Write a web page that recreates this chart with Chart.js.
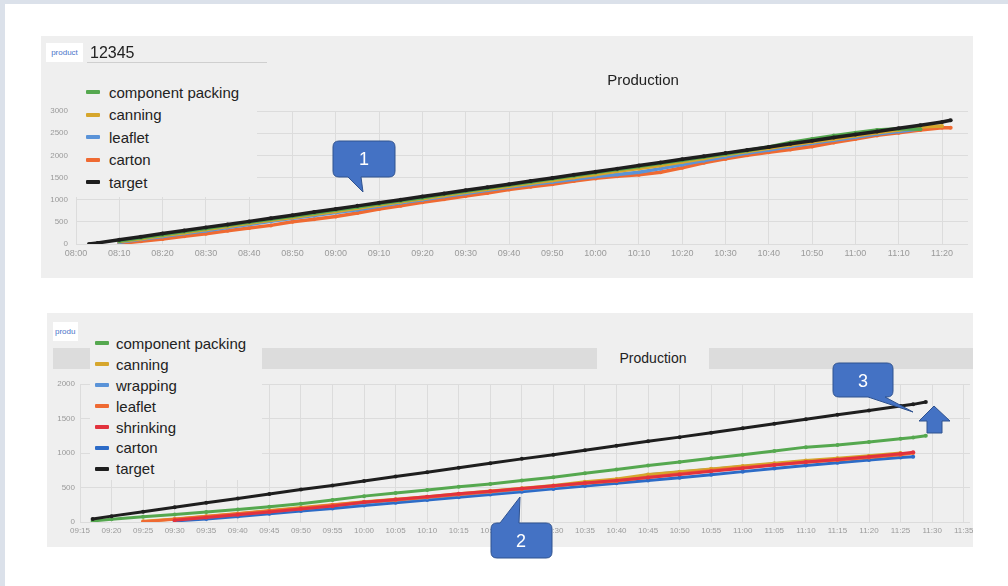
<!DOCTYPE html>
<html>
<head>
<meta charset="utf-8">
<script src="https://cdn.jsdelivr.net/npm/chart.js@4.4.1/dist/chart.umd.min.js"></script>
<style>
  html, body { margin: 0; padding: 0; }
  body {
    width: 1008px; height: 586px; overflow: hidden; position: relative;
    background: #dbe1ea; font-family: 'Liberation Sans', Arial, sans-serif;
  }
  .sheet { position: absolute; left: 5px; top: 4px; width: 1003px; height: 582px; background: #fff; }
  .panel { position: absolute; background: #efefef; overflow: hidden; }
  .panel canvas { position: absolute; left: 0; top: 0; }
  .tag {
    position: absolute; background: #fff; color: #4a74c9; font-size: 8px;
    line-height: 19px; height: 19px; overflow: hidden; white-space: nowrap;
  }
  .legend { position: absolute; background: #efefef; color: #222; font-size: 15px; }
  .legend .item { display: flex; align-items: center; white-space: nowrap; }
  .legend .swatch { width: 14px; height: 4px; border-radius: 1px; }
  svg { position: absolute; left: 0; top: 0; }
</style>
</head>
<body>
<div class="sheet"></div>

<div class="panel" style="left:41px; top:36px; width:932px; height:242px;">
  <canvas id="top-chart" width="932" height="242"></canvas>
  <div class="tag" style="left:5px; top:7px; width:37px; text-align:center;">product</div>
  <div style="position:absolute; left:46px; top:6px; width:180px; height:21px; border-bottom:1px solid #cfcfcf; font-size:16px; line-height:21px; color:#222; padding-left:3px; box-sizing:border-box;">12345</div>
  <div style="position:absolute; left:540px; top:35px; width:124px; text-align:center; font-size:15px; line-height:18px; color:#222;">Production</div>
  <div class="legend" id="top-legend" style="left:35px; top:45px; width:181px; height:116px; padding-left:10px; box-sizing:border-box;"></div>
</div>

<div class="panel" style="left:47px; top:313px; width:926px; height:234px;">
  <div style="position:absolute; left:6px; top:35px; width:920px; height:21px; background:#dcdcdc;"></div>
  <div style="position:absolute; left:550px; top:35px; width:112px; height:21px; background:#efefef; text-align:center; font-size:14px; line-height:21px; color:#222;">Production</div>
  <canvas id="bottom-chart" width="946" height="235"></canvas>
  <div class="tag" style="left:6px; top:9px; width:25px; padding-left:2px; box-sizing:border-box;">produ</div>
  <div class="legend" id="bottom-legend" style="left:43px; top:20px; width:172px; height:147px; padding-left:5px; box-sizing:border-box;"></div>
</div>

<svg width="1008" height="586">
  <g fill="#4472c4" stroke="#2f528f" stroke-width="1">
    <path d="M339 141 H389 Q395 141 395 147 V171 Q395 177 389 177 H361 L363 192 L348 177 H339 Q333 177 333 171 V147 Q333 141 339 141 Z"/>
    <path d="M497 523 H500 L520 497 L519 523 H546 Q552 523 552 529 V552 Q552 558 546 558 H497 Q491 558 491 552 V529 Q491 523 497 523 Z"/>
    <path d="M839 363 H887 Q893 363 893 369 V391 Q893 397 887 397 H885 L913 412 L868 397 H839 Q833 397 833 391 V369 Q833 363 839 363 Z"/>
    <path d="M934 406 L950 421 L942 421 L942 433 L927 433 L927 421 L919 421 Z"/>
  </g>
  <g fill="#fff" font-size="18" text-anchor="middle" font-family="Liberation Sans, Arial, sans-serif">
    <text x="364" y="165">1</text>
    <text x="521" y="547">2</text>
    <text x="863" y="387">3</text>
  </g>
</svg>

<script>
// top chart: 08:00 - 11:26
const topTimes = ['08:03', '08:05', '08:10', '08:15', '08:20', '08:25', '08:30', '08:35', '08:40', '08:45',
  '08:50', '08:55', '09:00', '09:05', '09:10', '09:15', '09:20', '09:25', '09:30', '09:35',
  '09:40', '09:45', '09:50', '09:55', '10:00', '10:05', '10:10', '10:15', '10:20', '10:25',
  '10:30', '10:35', '10:40', '10:45', '10:50', '10:55', '11:00', '11:05', '11:10', '11:15',
  '11:20', '11:22'];
const topTarget = [0, 25, 95, 165, 235, 305, 375, 440, 510, 580, 650, 720, 790, 860, 930, 1000, 1070, 1140, 1210, 1280,
  1350, 1420, 1490, 1560, 1630, 1700, 1770, 1840, 1910, 1980, 2050, 2120, 2190, 2260, 2330, 2400, 2470, 2540, 2610, 2680,
  2750, 2790];
const topComponentPacking = [null, null, 70, 140, 210, 280, 350, 420, 490, 560, 625, 695, 765, 835, 905, 975, 1045, 1120, 1190, 1260,
  1330, 1400, 1470, 1540, 1610, 1680, 1750, 1820, 1890, 1960, 2030, 2110, 2190, 2290, 2370, 2445, 2510, 2570, 2600, 2590,
  null, null];
const topCanning = [null, null, 55, 120, 190, 255, 325, 395, 465, 535, 600, 670, 735, 805, 880, 950, 1020, 1095, 1165, 1235,
  1305, 1370, 1430, 1500, 1570, 1640, 1700, 1770, 1850, 1930, 2010, 2085, 2160, 2230, 2300, 2370, 2440, 2510, 2570, 2640,
  2660, null];
const topLeaflet = [null, null, 40, 105, 170, 235, 300, 370, 440, 510, 580, 645, 710, 775, 850, 930, 1000, 1070, 1140, 1210,
  1280, 1340, 1400, 1460, 1520, 1570, 1620, 1700, 1790, 1880, 1970, 2050, 2120, 2200, 2270, 2340, 2410, 2480, 2540, 2600,
  null, null];
const topCarton = [null, null, 15, 60, 110, 175, 230, 300, 360, 420, 500, 560, 620, 700, 790, 860, 940, 1010, 1080, 1150,
  1230, 1290, 1350, 1420, 1480, 1530, 1560, 1620, 1720, 1830, 1920, 2000, 2070, 2130, 2200, 2290, 2370, 2450, 2510, 2570,
  2620, 2620];

// bottom chart: 09:15 - 11:36
const bottomTimes = ['09:17', '09:20', '09:25', '09:30', '09:35', '09:40', '09:45', '09:50', '09:55', '10:00',
  '10:05', '10:10', '10:15', '10:20', '10:25', '10:30', '10:35', '10:40', '10:45', '10:50',
  '10:55', '11:00', '11:05', '11:10', '11:15', '11:20', '11:25', '11:27', '11:29'];
const bottomTarget = [45, 85, 150, 215, 280, 340, 405, 470, 530, 595, 660, 720, 785, 850, 915, 975, 1040, 1105, 1170, 1230,
  1295, 1360, 1425, 1490, 1555, 1615, 1680, 1705, 1740];
const bottomComponentPacking = [15, 40, 75, 110, 145, 180, 220, 265, 320, 375, 420, 465, 510, 550, 600, 650, 705, 760, 820, 870,
  925, 975, 1030, 1085, 1115, 1160, 1205, 1225, 1250];
const bottomCanning = [null, null, 10, 45, 85, 125, 165, 210, 250, 295, 330, 365, 410, 450, 490, 530, 585, 625, 690, 730,
  770, 810, 850, 890, 925, 960, 1000, null, null];
const bottomWrapping = [null, null, null, 30, 70, 110, 150, 190, 235, 275, 315, 350, 395, 430, 470, 515, 560, 600, 685, 725,
  765, 805, 845, 880, 910, 945, 985, null, null];
const bottomLeaflet = [null, null, 5, 40, 80, 120, 160, 200, 245, 290, 320, 360, 400, 440, 480, 520, 560, 595, 650, 700,
  745, 790, 830, 865, 900, 935, 975, 1000, null];
const bottomShrinking = [null, null, null, 25, 65, 105, 145, 190, 230, 285, 325, 365, 410, 445, 485, 525, 565, 600, 645, 690,
  735, 780, 825, 870, 905, 945, 990, 1010, null];
const bottomCarton = [null, null, null, 15, 45, 80, 120, 160, 195, 240, 280, 320, 360, 400, 440, 480, 520, 560, 600, 640,
  685, 730, 775, 820, 860, 900, 935, 945, null];

const GREEN = '#55a84f';
const GOLD = '#d6a62c';
const LIGHT_BLUE = '#5a93d8';
const ORANGE = '#ef6a32';
const RED = '#e2323d';
const BLUE = '#2c6bc7';
const BLACK = '#1e1e1e';

Chart.defaults.font.family = "'Liberation Sans', Arial, sans-serif";

const toMin = (s) => {
  const [h, m] = s.split(':').map(Number);
  return h * 60 + m;
};
const pad = (n) => String(n).padStart(2, '0');
const fmtTime = (v) => pad(Math.floor(v / 60)) + ':' + pad(v % 60);

const createDataset = (label, times, values, color, order) => {
  return {
    label: label,
    data: times
      .map((t, i) => ({ x: toMin(t), y: values[i] }))
      .filter((p) => p.y !== null),
    borderColor: color,
    backgroundColor: color,
    pointBackgroundColor: color,
    order: order,
  };
};

const buildLegend = (id, datasets, lineHeight, gap) => {
  const box = document.getElementById(id);
  datasets.forEach((ds) => {
    const item = document.createElement('div');
    item.className = 'item';
    item.style.height = lineHeight + 'px';
    const sw = document.createElement('span');
    sw.className = 'swatch';
    sw.style.background = ds.borderColor;
    sw.style.marginRight = gap + 'px';
    item.appendChild(sw);
    item.appendChild(document.createTextNode(ds.label));
    box.appendChild(item);
  });
};

const makeOptions = (cfg) => {
  return {
    responsive: false,
    animation: false,
    layout: { padding: cfg.padding },
    plugins: { legend: { display: false }, tooltip: { enabled: false } },
    scales: {
      x: {
        type: 'linear',
        min: cfg.xMin,
        max: cfg.xMax,
        afterFit: (s) => { s.height = cfg.xHeight; },
        grid: { color: '#dcdcdc', drawTicks: false },
        border: { display: false },
        ticks: {
          stepSize: cfg.xStep,
          includeBounds: false,
          autoSkip: false,
          maxRotation: 0,
          padding: 4,
          color: '#9a9a9a',
          font: { size: cfg.xFont },
          callback: (v) => fmtTime(v),
        },
      },
      y: {
        min: 0,
        max: cfg.yMax,
        afterFit: (s) => { s.width = cfg.yWidth; },
        grid: { color: '#dcdcdc', drawTicks: false },
        border: { display: false },
        ticks: {
          stepSize: 500,
          padding: cfg.yPad,
          color: '#9a9a9a',
          font: { size: 8 },
          callback: (v) => String(v),
        },
      },
    },
    elements: {
      line: { borderWidth: cfg.lineWidth, tension: 0 },
      point: { radius: 2, borderWidth: 0, hoverRadius: 0 },
    },
  };
};

(function () {
  const topSets = [
    createDataset('component packing', topTimes, topComponentPacking, GREEN, 1),
    createDataset('canning', topTimes, topCanning, GOLD, 2),
    createDataset('leaflet', topTimes, topLeaflet, LIGHT_BLUE, 3),
    createDataset('carton', topTimes, topCarton, ORANGE, 4),
    createDataset('target', topTimes, topTarget, BLACK, 0),
  ];
  buildLegend('top-legend', topSets, 22.5, 9);

  new Chart(document.getElementById('top-chart'), {
    type: 'line',
    data: { datasets: topSets },
    options: makeOptions({
      padding: { top: 75, right: 5, bottom: 12, left: 0 },
      xMin: toMin('08:00'), xMax: toMin('11:26'), xStep: 10, xHeight: 22, xFont: 9,
      yMax: 3000, yWidth: 35, yPad: 8, lineWidth: 3.5,
    }),
  });

  const bottomSets = [
    createDataset('component packing', bottomTimes, bottomComponentPacking, GREEN, 1),
    createDataset('canning', bottomTimes, bottomCanning, GOLD, 4),
    createDataset('wrapping', bottomTimes, bottomWrapping, LIGHT_BLUE, 5),
    createDataset('leaflet', bottomTimes, bottomLeaflet, ORANGE, 3),
    createDataset('shrinking', bottomTimes, bottomShrinking, RED, 2),
    createDataset('carton', bottomTimes, bottomCarton, BLUE, 6),
    createDataset('target', bottomTimes, bottomTarget, BLACK, 0),
  ];
  buildLegend('bottom-legend', bottomSets, 20.9, 7);

  new Chart(document.getElementById('bottom-chart'), {
    type: 'line',
    data: { datasets: bottomSets },
    options: makeOptions({
      padding: { top: 71, right: 23, bottom: 6, left: 0 },
      xMin: toMin('09:15'), xMax: toMin('11:36'), xStep: 5, xHeight: 20, xFont: 8,
      yMax: 2000, yWidth: 33, yPad: 5, lineWidth: 3,
    }),
  });
})();
</script>
</body>
</html>
